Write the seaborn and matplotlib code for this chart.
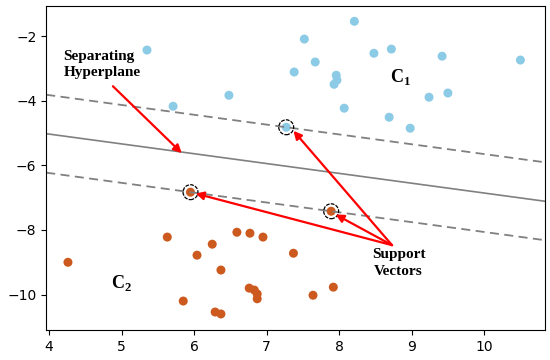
import numpy as np
import pandas as pd
import matplotlib
matplotlib.use("Agg")
import matplotlib.pyplot as plt
import seaborn as sns

# class C1 (upper, blue)
c1_x = [5.35, 5.71, 6.48, 7.52, 8.21, 7.67, 7.38, 7.96, 7.97, 7.93, 8.48, 8.72,
        9.42, 10.50, 9.24, 9.50, 8.07, 8.69, 8.98, 7.27]
c1_y = [-2.43, -4.17, -3.83, -2.09, -1.54, -2.80, -3.11, -3.21, -3.36, -3.49, -2.53, -2.40,
        -2.62, -2.74, -3.89, -3.76, -4.23, -4.51, -4.85, -4.82]
# class C2 (lower, orange)
c2_x = [5.95, 5.63, 4.26, 6.04, 6.25, 6.59, 6.77, 6.95, 6.37, 6.76, 6.83, 6.87,
        6.87, 5.85, 6.29, 6.37, 7.37, 7.64, 7.92, 7.89]
c2_y = [-6.83, -8.22, -9.00, -8.78, -8.44, -8.07, -8.10, -8.22, -9.24, -9.80, -9.86, -9.98,
        -10.13, -10.20, -10.54, -10.60, -8.72, -10.02, -9.77, -7.42]

# support vectors
sv_x = [7.27, 5.95, 7.89]
sv_y = [-4.82, -6.83, -7.42]

df = pd.DataFrame({
    "x": c1_x + c2_x,
    "y": c1_y + c2_y,
    "cls": ["C1"] * len(c1_x) + ["C2"] * len(c2_x),
})

sns.set_style("ticks")
plt.rcParams["mathtext.fontset"] = "custom"
plt.rcParams["mathtext.bf"] = "Liberation Serif:bold"
plt.rcParams["mathtext.rm"] = "Liberation Serif:bold"

fig, ax = plt.subplots(figsize=(5.5, 3.6), dpi=100)

sns.scatterplot(data=df, x="x", y="y", hue="cls",
                palette={"C1": "#8ccbe6", "C2": "#cc5a1e"},
                s=42, linewidth=0, legend=False, ax=ax)
ax.scatter(sv_x, sv_y, s=115, facecolors="none", edgecolors="k",
           linewidths=0.9, linestyle=(0, (3, 1)), zorder=3)

# hyperplane and margins from support vectors
slope = (sv_y[2] - sv_y[1]) / (sv_x[2] - sv_x[1])
b_low = sv_y[1] - slope * sv_x[1]
b_up = sv_y[0] - slope * sv_x[0]
b_mid = (b_low + b_up) / 2
xx = np.array([3.96, 10.84])
ax.plot(xx, slope * xx + b_mid, color="#808080", lw=1.2, ls="-")
ax.plot(xx, slope * xx + b_up, color="#808080", lw=1.3, dashes=(5, 3))
ax.plot(xx, slope * xx + b_low, color="#808080", lw=1.3, dashes=(5, 3))

ax.set_xlim(3.96, 10.84)
ax.set_ylim(-11.1, -1.07)
ax.set_xlabel("")
ax.set_ylabel("")
ax.set_xticks([4, 5, 6, 7, 8, 9, 10])
ax.set_yticks([-2, -4, -6, -8, -10])
ax.tick_params(labelsize=10, colors="k")
for sp in ax.spines.values():
    sp.set_visible(True)
    sp.set_color("black")

serif = dict(family="Liberation Serif", weight="bold", fontsize=11, color="black")
arrow = dict(arrowstyle="-|>", color="red", lw=1.6, mutation_scale=12,
             shrinkA=0, shrinkB=0)

ax.text(4.2, -2.87, "Separating\nHyperplane", ha="left", va="center",
        linespacing=1.35, **serif)
ax.annotate("", xy=(5.83, -5.62), xytext=(4.88, -3.55), arrowprops=arrow)

sv_txt = (8.73, -8.47)
for tx, ty in [(7.37, -4.93), (6.02, -6.87), (7.95, -7.52)]:
    ax.annotate("", xy=(tx, ty), xytext=sv_txt, arrowprops=arrow)
ax.text(8.82, -9.02, "Support\nVectors", ha="center", va="center",
        linespacing=1.35, **serif)

cls_font = dict(serif, fontsize=13)
ax.text(8.85, -3.25, r"C$_{\mathbf{1}}$", ha="center", va="center", **cls_font)
ax.text(5.0, -9.65, r"C$_{\mathbf{2}}$", ha="center", va="center", **cls_font)

plt.subplots_adjust(left=0.084, right=0.991, top=0.983, bottom=0.083)
fig.savefig("out.png", dpi=100)
